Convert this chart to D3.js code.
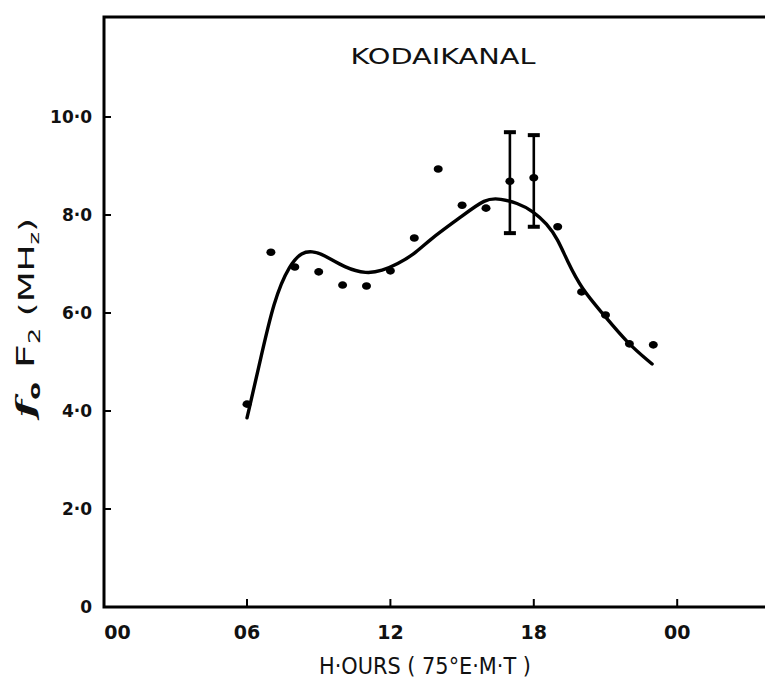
<!DOCTYPE html>
<html>
<head>
<meta charset="utf-8">
<script src="https://cdn.jsdelivr.net/npm/d3@7"></script>
<style>
body { margin: 0; background: #fff; }
text { font-family: "DejaVu Sans", sans-serif; fill: #111; }
</style>
</head>
<body>
<div id="chart"></div>
<script>
// observed hourly values (foF2, MHz)
var hours = [6, 7, 8, 9, 10, 11, 12, 13, 14, 15, 16, 17, 18, 19, 20, 21, 22, 23];
var values = [4.14, 7.24, 6.94, 6.84, 6.57, 6.55, 6.86, 7.53, 8.94, 8.2, 8.14, 8.69, 8.76, 7.76, 6.43, 5.96, 5.37, 5.35];

// error bars
var errHours = [17, 18];
var errLow = [7.63, 7.76];
var errHigh = [9.69, 9.63];

// smooth mean curve
var curveHours = [6.0, 6.46, 7.13, 7.8, 8.3, 8.72, 9.18, 10.1, 11.0, 11.65, 12.3, 13.0, 13.65, 14.9, 16.0, 16.6, 17.3, 17.97, 18.55, 19.0, 19.4, 20.0, 20.9, 21.9, 22.95];
var curveValues = [3.86, 4.82, 6.29, 7.0, 7.24, 7.26, 7.2, 6.92, 6.8, 6.86, 7.0, 7.2, 7.5, 7.94, 8.35, 8.33, 8.25, 8.08, 7.82, 7.51, 7.06, 6.49, 5.98, 5.39, 4.96];

var xTicks = [0, 6, 12, 18, 24];
var xTickLabels = ["00", "06", "12", "18", "00"];
var yTicks = [0, 2, 4, 6, 8, 10];
var yTickLabels = ["0", "2·0", "4·0", "6·0", "8·0", "10·0"];

var width = 765, height = 684;
var frameLeft = 104, frameTop = 17, frameBottom = 607;

var svg = d3.select("#chart")
	.append("svg")
	.attr("width", width)
	.attr("height", height);

var x = d3.scaleLinear().domain([0, 24]).range([103.6, 677.2]);
var y = d3.scaleLinear().domain([0, 10]).range([frameBottom, 117]);

// frame: left, top, bottom (runs off the right edge)
svg.append("path")
	.attr("d", "M" + width + "," + frameTop + "H" + frameLeft + "V" + frameBottom + "H" + width)
	.attr("fill", "none")
	.attr("stroke", "#000")
	.attr("stroke-width", 3);

// y ticks point inward
svg.selectAll(".ytick")
	.data(yTicks.slice(1))
	.enter().append("line")
	.attr("x1", frameLeft).attr("x2", frameLeft + 7)
	.attr("y1", function(d) { return y(d); })
	.attr("y2", function(d) { return y(d); })
	.attr("stroke", "#000").attr("stroke-width", 2);

svg.selectAll(".ylab")
	.data(yTicks)
	.enter().append("text")
	.attr("x", 92)
	.attr("y", function(d) { return y(d) + 6; })
	.attr("text-anchor", "end")
	.style("font-size", "17px")
	.style("font-weight", "bold")
	.text(function(d, i) { return yTickLabels[i]; });

// x ticks point up
svg.selectAll(".xtick")
	.data(xTicks.slice(1))
	.enter().append("line")
	.attr("x1", function(d) { return x(d); })
	.attr("x2", function(d) { return x(d); })
	.attr("y1", frameBottom).attr("y2", frameBottom - 8)
	.attr("stroke", "#000").attr("stroke-width", 2);

svg.selectAll(".xlab")
	.data(xTicks)
	.enter().append("text")
	.attr("x", function(d, i) { return i == 0 ? x(d) + 14 : x(d); })
	.attr("y", 639)
	.attr("text-anchor", "middle")
	.style("font-size", "19px")
	.style("font-weight", "bold")
	.text(function(d, i) { return xTickLabels[i]; });

// titles
svg.append("text")
	.attr("x", 443).attr("y", 64)
	.attr("text-anchor", "middle")
	.attr("textLength", 185).attr("lengthAdjust", "spacingAndGlyphs")
	.style("font-size", "22px")
	.text("KODAIKANAL");

svg.append("text")
	.attr("x", 425).attr("y", 674)
	.attr("text-anchor", "middle")
	.attr("textLength", 212).attr("lengthAdjust", "spacingAndGlyphs")
	.style("font-size", "23px")
	.text("H·OURS ( 75°E·M·T )");

var ylab = svg.append("text")
	.attr("transform", "translate(34,318) rotate(-90)")
	.attr("text-anchor", "middle")
	.attr("textLength", 200).attr("lengthAdjust", "spacingAndGlyphs")
	.style("font-size", "25px");
ylab.append("tspan").style("font-style", "italic").style("font-weight", "bold").style("font-family", "'DejaVu Serif', serif").text("f");
ylab.append("tspan").attr("dy", 6).style("font-size", "15px").style("font-weight", "bold").text("o");
ylab.append("tspan").attr("dy", -6).text(" F");
ylab.append("tspan").attr("dy", 6).style("font-size", "15px").text("2");
ylab.append("tspan").attr("dy", -6).style("font-size", "21px").text(" (MH");
ylab.append("tspan").attr("dy", 5).style("font-size", "14px").text("z");
ylab.append("tspan").attr("dy", -5).style("font-size", "21px").text(")");

// mean curve
var curveData = curveHours.map(function(h, i) { return [h, curveValues[i]]; });
var line = d3.line()
	.x(function(d) { return x(d[0]); })
	.y(function(d) { return y(d[1]); })
	.curve(d3.curveBasis);

svg.append("path")
	.datum(curveData)
	.attr("d", line)
	.attr("fill", "none")
	.attr("stroke", "#000")
	.attr("stroke-width", 3.4)
	.attr("stroke-linecap", "round");

// error bars
var errData = errHours.map(function(h, i) { return { h: h, lo: errLow[i], hi: errHigh[i] }; });
var eb = svg.selectAll(".err")
	.data(errData)
	.enter().append("g");
eb.append("line")
	.attr("x1", function(d) { return x(d.h); })
	.attr("x2", function(d) { return x(d.h); })
	.attr("y1", function(d) { return y(d.lo); })
	.attr("y2", function(d) { return y(d.hi); })
	.attr("stroke", "#000").attr("stroke-width", 2.6);
eb.append("line")
	.attr("x1", function(d) { return x(d.h) - 6; })
	.attr("x2", function(d) { return x(d.h) + 6; })
	.attr("y1", function(d) { return y(d.lo); })
	.attr("y2", function(d) { return y(d.lo); })
	.attr("stroke", "#000").attr("stroke-width", 4);
eb.append("line")
	.attr("x1", function(d) { return x(d.h) - 6; })
	.attr("x2", function(d) { return x(d.h) + 6; })
	.attr("y1", function(d) { return y(d.hi); })
	.attr("y2", function(d) { return y(d.hi); })
	.attr("stroke", "#000").attr("stroke-width", 4);

// observed points
svg.selectAll(".pt")
	.data(hours)
	.enter().append("ellipse")
	.attr("cx", function(d) { return x(d); })
	.attr("cy", function(d, i) { return y(values[i]); })
	.attr("rx", 4.5)
	.attr("ry", 3.8)
	.attr("fill", "#000");
</script>
</body>
</html>
